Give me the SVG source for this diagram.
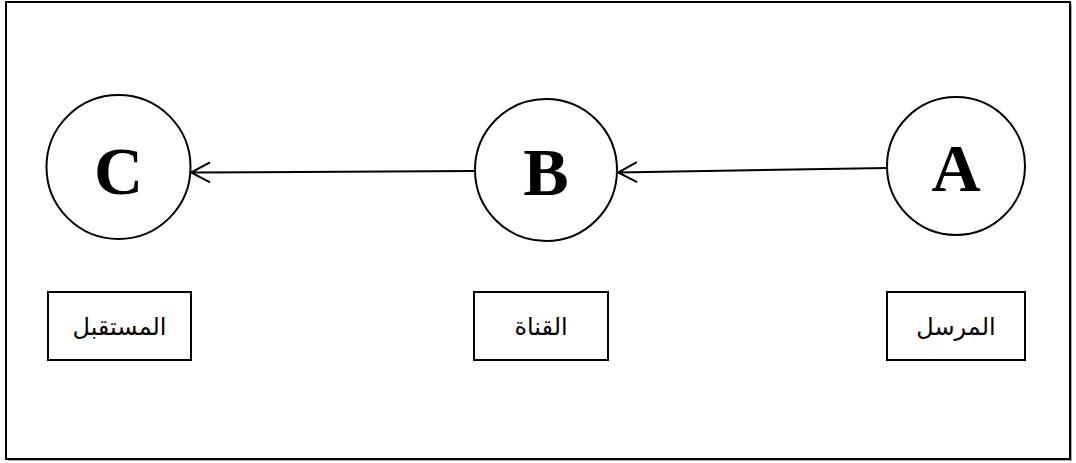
<svg xmlns="http://www.w3.org/2000/svg" width="1076" height="463" viewBox="0 0 1076 463">
<style>
.frame{fill:#fff;stroke:#000;stroke-width:2}
.node{fill:#fff;stroke:#000;stroke-width:2}
.letter{font-family:"Liberation Serif","Times New Roman",serif;font-weight:bold;font-size:68px;text-anchor:middle}
.box{fill:#fff;stroke:#000;stroke-width:2}
.lbl{font-family:"Liberation Sans","DejaVu Sans",sans-serif;font-size:24px;text-anchor:middle}
.edge{stroke:#000;stroke-width:2;fill:none}
</style>
<defs>
<marker id="arr" viewBox="0 0 22 24" refX="20" refY="12" markerWidth="22" markerHeight="24" markerUnits="userSpaceOnUse" orient="auto">
<path d="M1 2 L20 12 L1 22" fill="none" stroke="#000" stroke-width="2"/>
</marker>
</defs>
<rect x="8" y="4" width="1064" height="457" fill="#aaa"/>
<rect class="frame" x="6" y="2" width="1064" height="457"/>
<g id="node-A">
<circle class="node" cx="956" cy="166" r="69"/>
<text class="letter" x="956" y="191">A</text>
</g>
<g id="node-B">
<circle class="node" cx="546" cy="170" r="71"/>
<text class="letter" x="546" y="195">B</text>
</g>
<g id="node-C">
<circle class="node" cx="118.5" cy="167" r="72"/>
<text class="letter" x="118.5" y="194">C</text>
</g>
<g id="connectors">
<path class="edge" d="M887 168 L618 172.5" marker-end="url(#arr)"/>
<path class="edge" d="M475 171 L191 172.5" marker-end="url(#arr)"/>
</g>
<g id="label-A">
<rect class="box" x="887" y="292" width="138" height="68"/>
<text class="lbl" x="956" y="335" direction="rtl" style="text-anchor:middle">المرسل</text>
</g>
<g id="label-B">
<rect class="box" x="474" y="292" width="134" height="68"/>
<text class="lbl" x="541" y="335" direction="rtl" style="text-anchor:middle">القناة</text>
</g>
<g id="label-C">
<rect class="box" x="48" y="292" width="143" height="68"/>
<text class="lbl" x="119.5" y="335" direction="rtl" style="text-anchor:middle">المستقبل</text>
</g>
</svg>
